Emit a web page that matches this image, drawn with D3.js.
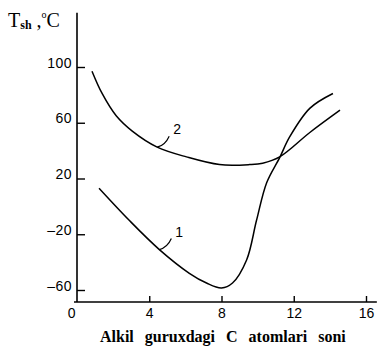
<!DOCTYPE html>
<html><head><meta charset="utf-8">
<script src="https://cdn.jsdelivr.net/npm/d3@7"></script>
<style>
html,body{margin:0;padding:0;background:#fff;}
svg{display:block;}
</style></head>
<body>
<script>
// Data
const curve1X = [1.22, 2.89, 4.56, 6.22, 7.17, 8.0, 8.61, 9.39, 9.94, 10.5, 11.22, 11.78, 12.9, 14.17];
const curve1Y = [13, -10, -31, -48, -55, -58.5, -55, -38.5, -10, 17, 35, 50, 70.5, 81];
const curve2X = [0.83, 1.39, 2.17, 3.06, 4.44, 6.06, 7.89, 9.56, 10.28, 11.22, 12.89, 14.56];
const curve2Y = [97, 81, 65, 54, 42.5, 35.5, 30, 30, 31, 35.5, 53, 69];
const xTicks = [0, 4, 8, 12, 16];
const yTicks = [-60, -20, 20, 60, 100];
const yTickLabels = ["\u201360", "\u201320", "20", "60", "100"];
const curveNames = ["1", "2"];
const labelAnchors = [[4.56, -31], [4.44, 42.5]];
const xTitle = "Alkil guruxdagi C atomlari soni";

const W = 378, H = 346;
const svg = d3.select("body").append("svg").attr("width", W).attr("height", H);

const x = d3.scaleLinear().domain([0, 16]).range([77, 366]);
const y = d3.scaleLinear().domain([-60, 100]).range([290, 67]);
const xEnd = 16.6, yBottom = -68.6, yTop = 139;

// axis lines
svg.append("line").attr("x1", x(0)).attr("x2", x(0)).attr("y1", y(yBottom)).attr("y2", y(yTop))
  .attr("stroke", "#000").attr("stroke-width", 1.6);
svg.append("line").attr("x1", x(0) - 3).attr("x2", x(xEnd)).attr("y1", y(yBottom)).attr("y2", y(yBottom))
  .attr("stroke", "#000").attr("stroke-width", 1.6);

// y axis ticks
const yAxis = d3.axisLeft(y).tickValues(yTicks).tickFormat((d, i) => yTickLabels[i])
  .tickSizeInner(-8).tickSizeOuter(0).tickPadding(5);
const gy = svg.append("g").attr("transform", `translate(${x(0)},0)`).call(yAxis);
gy.select(".domain").remove();
gy.selectAll(".tick line").attr("stroke", "#000").attr("stroke-width", 1.4);
gy.selectAll("text").attr("dy", "0.0em").attr("font-family", "Liberation Sans, Arial, sans-serif")
  .attr("font-size", 14).attr("fill", "#000").attr("letter-spacing", 0.5);

// x axis ticks
const xAxis = d3.axisBottom(x).tickValues(xTicks).tickFormat(d => d)
  .tickSizeInner(-6).tickSizeOuter(0).tickPadding(6);
const gx = svg.append("g").attr("transform", `translate(0,${y(yBottom)})`).call(xAxis);
gx.select(".domain").remove();
gx.selectAll(".tick line").attr("stroke", "#000").attr("stroke-width", 1.4)
  .filter(d => d === 0).remove();
gx.selectAll("text").attr("font-family", "Liberation Sans, Arial, sans-serif")
  .attr("font-size", 14).attr("fill", "#000");
gx.selectAll(".tick").filter(d => d === 0).select("text").attr("text-anchor", "end").attr("x", -2);

// curves
const line = d3.line().x(d => x(d[0])).y(d => y(d[1])).curve(d3.curveCatmullRom.alpha(0.5));
const series = [d3.zip(curve1X, curve1Y), d3.zip(curve2X, curve2Y)];
svg.selectAll("path.curve").data(series).join("path").attr("class", "curve")
  .attr("d", line).attr("fill", "none").attr("stroke", "#000").attr("stroke-width", 1.5);

// curve labels with leader lines
curveNames.forEach((name, i) => {
  const [ax, ay] = labelAnchors[i];
  const px = x(ax), py = y(ay);
  svg.append("path").attr("d", `M${px},${py} Q${px + 8},${py - 2} ${px + 12},${py - 11}`)
    .attr("fill", "none").attr("stroke", "#000").attr("stroke-width", 1.2);
  svg.append("text").attr("x", px + 16).attr("y", py - 13).text(name)
    .attr("font-family", "Liberation Sans, Arial, sans-serif").attr("font-size", 14).attr("fill", "#000");
});

// y axis title
const yt = svg.append("text").attr("x", 8).attr("y", 27)
  .attr("font-family", "Liberation Serif, Times New Roman, serif").attr("fill", "#000");
yt.append("tspan").text("T").attr("font-size", 20);
yt.append("tspan").text("sh").attr("font-size", 12).attr("font-weight", "bold").attr("dy", 2);
yt.append("tspan").text(" ,").attr("font-size", 20).attr("dy", -2);
yt.append("tspan").text("o").attr("font-size", 10).attr("dy", -9);
yt.append("tspan").text("C").attr("font-size", 20).attr("dy", 9);

// x axis title
svg.append("text").attr("x", 100).attr("y", 342).text(xTitle)
  .attr("font-family", "Liberation Serif, Times New Roman, serif").attr("font-size", 16)
  .attr("font-weight", "bold").attr("word-spacing", 7).attr("fill", "#000");
</script>
</body></html>
